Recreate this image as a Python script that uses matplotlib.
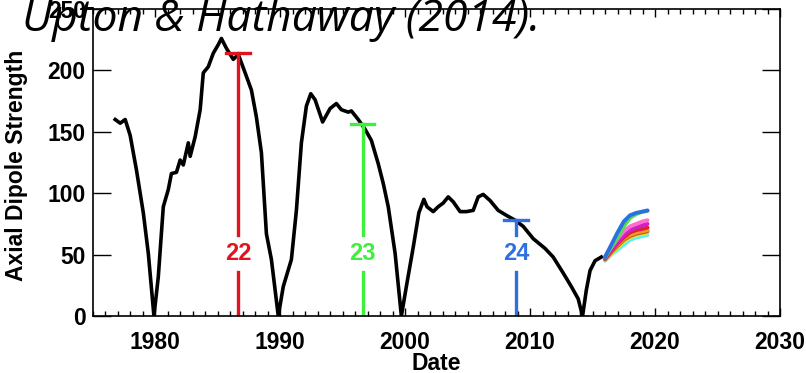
import numpy as np
import matplotlib
matplotlib.use("Agg")
import matplotlib.pyplot as plt
from matplotlib.ticker import MultipleLocator

plt.rcParams.update({
    "font.family": "Liberation Sans",
    "font.weight": "bold",
    "xtick.direction": "in",
    "ytick.direction": "in",
})

# Axial dipole strength (black trace)
years = [1976.8, 1977.2, 1977.6, 1978.0, 1978.5, 1979.05, 1979.45, 1979.9,
         1980.25, 1980.65, 1981.05, 1981.3, 1981.7, 1982.0, 1982.25, 1982.65,
         1982.8, 1983.2, 1983.6, 1983.85, 1984.25, 1984.65, 1985.05, 1985.3,
         1985.7, 1986.25, 1986.65, 1987.2, 1987.7, 1988.1, 1988.5, 1988.9,
         1989.3, 1989.85, 1990.25, 1990.9, 1991.3, 1991.7, 1992.1, 1992.45,
         1992.8, 1993.4, 1994.0, 1994.5, 1994.9, 1995.45, 1995.7, 1996.25,
         1996.8, 1997.3, 1997.85, 1998.25, 1998.65, 1999.2, 1999.7, 2000.1,
         2000.65, 2001.1, 2001.5, 2001.75, 2002.25, 2002.65, 2003.05, 2003.45,
         2003.85, 2004.4, 2004.9, 2005.45, 2005.85, 2006.25, 2006.8, 2007.45,
         2008.1, 2008.8, 2009.45, 2010.25, 2011.2, 2011.85, 2012.65, 2013.3,
         2013.85, 2014.2, 2014.5, 2014.8, 2015.2, 2015.7]
strength = [160, 157, 160, 147, 119, 84, 51, 0,
            32, 89, 103, 116, 117, 127, 123, 141,
            130, 146, 168, 198, 203, 214, 221, 226,
            218, 209, 213, 198, 184, 162, 133, 67,
            46, 0, 24, 46, 86, 141, 171, 181,
            176, 158, 169, 173, 168, 166, 167, 160,
            152, 143, 124, 108, 89, 51, 0, 24,
            56, 84, 95, 89, 85, 89, 92, 97,
            93, 85, 85, 86, 97, 99, 94, 86,
            82, 78, 73, 63, 55, 48, 35, 24,
            14, 0, 21, 37, 45, 48]

# Cycle markers
cycles = ["22", "23", "24"]
cycle_years = [1986.65, 1996.6, 2008.9]
cycle_strength = [214, 156, 78]
cycle_colors = ["#e0141e", "#3cf03c", "#2f6fe0"]

# Forecast ensemble
fc_years = [2016.0, 2016.5, 2017.0, 2017.5, 2018.0, 2018.5, 2019.0, 2019.4]
fc_cyan = [45, 50, 54, 58, 62, 64, 65, 66]
fc_yellow = [46, 51, 56, 61, 64, 66, 67, 68]
fc_brown = [46, 52, 57, 62, 65, 67, 68, 69]
fc_orange = [47, 53, 58, 63, 66, 68, 69, 70]
fc_red = [47, 53, 59, 64, 68, 70, 71, 72]
fc_magenta = [47, 54, 60, 66, 70, 72, 74, 75]
fc_pink = [48, 56, 63, 69, 73, 75, 77, 78]
fc_green = [48, 56, 64, 73, 80, 83, 85, 85.5]
fc_blue = [48, 58, 68, 77, 82, 84, 85, 86]
forecasts = [
    (fc_cyan, "#5ff0f0"),
    (fc_yellow, "#f5e62a"),
    (fc_brown, "#b0602a"),
    (fc_orange, "#f59a20"),
    (fc_red, "#e0203a"),
    (fc_magenta, "#d020c8"),
    (fc_pink, "#ff6fd0"),
    (fc_green, "#4ee04e"),
    (fc_blue, "#2a70e0"),
]

fig = plt.figure(figsize=(8.06, 3.73), dpi=100)
ax = fig.add_axes([92.7 / 806, 57 / 373, (780 - 92.7) / 806, (316 - 9) / 373])

ax.plot(years, strength, color="black", lw=2.6, solid_joinstyle="round")

for vals, col in forecasts:
    ax.plot(fc_years, vals, color=col, lw=2.8, solid_capstyle="round")

label_y = 51
for name, yr, top, col in zip(cycles, cycle_years, cycle_strength, cycle_colors):
    ax.plot([yr, yr], [0, label_y - 15], color=col, lw=2.4)
    ax.plot([yr, yr], [label_y + 15, top], color=col, lw=2.4)
    ax.plot([yr - 0.95, yr + 0.95], [top, top], color=col, lw=2.4)
    ax.text(yr, label_y, name, color=col, fontsize=17, fontweight="bold",
            ha="center", va="center")

ax.set_xlim(1975, 2030)
ax.set_ylim(0, 250)
ax.xaxis.set_major_locator(MultipleLocator(10))
ax.xaxis.set_minor_locator(MultipleLocator(1))
ax.yaxis.set_major_locator(MultipleLocator(50))
ax.tick_params(axis="x", which="major", length=6, width=1, top=True,
               labelsize=16.5, pad=11)
ax.tick_params(axis="x", which="minor", length=3.5, width=1, top=True)
ax.tick_params(axis="y", which="major", length=13, width=1, right=True,
               labelsize=16.5, pad=5)
for lab in ax.get_xticklabels() + ax.get_yticklabels():
    lab.set_fontweight("bold")
for sp in ax.spines.values():
    sp.set_linewidth(1.2)

ax.set_xlabel("Date", fontsize=16.5, fontweight="bold", labelpad=-2)
ax.set_ylabel("Axial Dipole Strength", fontsize=16.5, fontweight="bold")
ax.yaxis.set_label_coords(-0.094, 0.49)

fig.text(22 / 806, 1 - 31 / 373, "Upton & Hathaway (2014).", family="Open Sans",
         style="italic", fontweight="normal", fontsize=32, ha="left",
         va="baseline", zorder=10)

fig.savefig("out.png", dpi=100)
